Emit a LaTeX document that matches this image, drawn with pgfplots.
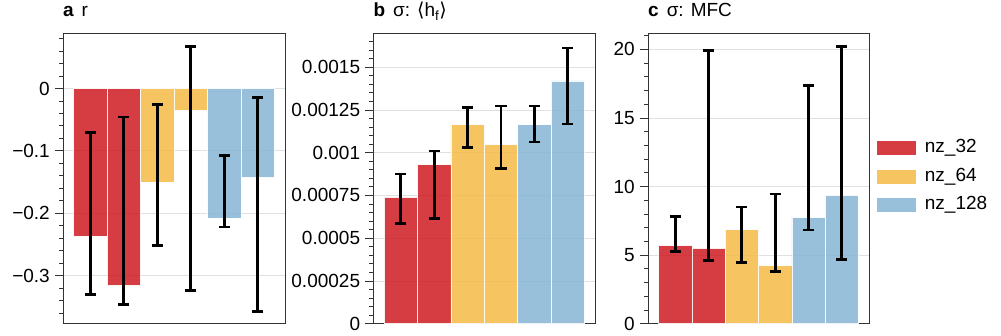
\documentclass[border=0pt]{standalone}
\usepackage{pgfplots}
\pgfplotsset{compat=1.18}
\usepackage{fontspec}
\setmainfont{Liberation Sans}
\newfontfamily\dejavu{DejaVu Sans}
\newcommand{\fs}{\fontsize{19}{22}\selectfont}
\definecolor{cred}{RGB}{206,27,34}
\definecolor{cyel}{RGB}{246,186,70}
\definecolor{cblue}{RGB}{134,181,212}
\begin{document}
\begin{tikzpicture}
\path[use as bounding box] (0,0) rectangle (1001pt,335pt);
\pgfplotsset{common/.style={
  scale only axis, width=222pt, height=290.7pt,
  xmin=-0.82, xmax=5.82, xtick=\empty, ytick pos=left,
  scaled y ticks=false,
  tick align=outside, major tick length=8pt, minor tick length=4pt,
  axis line style={black!80, line width=0.9pt},
  every tick/.style={black!80, line width=0.9pt},
  ymajorgrids, grid style={black!12, line width=0.8pt},
  ybar, bar width=1,
  font=\fs,
  yticklabel style={inner sep=0pt, xshift=-5pt, font=\fs},
  title style={at={(0,1)}, anchor=base west, inner sep=0pt, yshift=10.3pt, font=\fs},
  every axis plot/.append style={bar shift=0pt, fill opacity=0.85, draw=white, draw opacity=0.9, line width=0.5pt},
  error bars/y dir=both, error bars/y explicit,
  error bars/error bar style={line width=2.8pt, black, opacity=1},
  error bars/error mark options={rotate=90, mark size=5.6pt, line width=2.6pt, black, opacity=1},
  legend image code/.code={\fill[#1, draw=none] (0pt,-7pt) rectangle (39pt,7pt);},
}}
% ---- panel a
\begin{axis}[common, at={(63pt,11.3pt)}, anchor=south west,
  ymin=-0.377, ymax=0.089,
  ytick={-0.3,-0.2,-0.1,0}, yticklabels={−0.3,−0.2,−0.1,0},
  minor ytick={-0.36,-0.34,-0.32,-0.28,-0.26,-0.24,-0.22,-0.18,-0.16,-0.14,-0.12,-0.08,-0.06,-0.04,-0.02,0.02,0.04,0.06,0.08},
  title={\bfseries a\hspace{0.42em}\mdseries r}]
\addplot[fill=cred] table[x=x,y=y,y error plus=ep,y error minus=em] {
x y ep em
0 -0.237 0.1664 0.093
1 -0.316 0.2705 0.030
};
\addplot[fill=cyel] table[x=x,y=y,y error plus=ep,y error minus=em] {
x y ep em
2 -0.150 0.1243 0.1015
3 -0.035 0.1024 0.289
};
\addplot[fill=cblue] table[x=x,y=y,y error plus=ep,y error minus=em] {
x y ep em
4 -0.208 0.101 0.014
5 -0.143 0.1285 0.214
};
\end{axis}
% ---- panel b
\begin{axis}[common, at={(373.3pt,11.3pt)}, anchor=south west,
  ymin=0, ymax=0.0017,
  ytick={0,0.00025,0.0005,0.00075,0.001,0.00125,0.0015},
  yticklabels={0,0.00025,0.0005,0.00075,0.001,0.00125,0.0015},
  minor ytick={0.00005,0.0001,0.00015,0.0002,0.0003,0.00035,0.0004,0.00045,0.00055,0.0006,0.00065,0.0007,0.0008,0.00085,0.0009,0.00095,0.00105,0.0011,0.00115,0.0012,0.0013,0.00135,0.0014,0.00145,0.00155,0.0016,0.00165},
  title={\bfseries b\hspace{0.42em}\mdseries σ: {\dejavu ⟨}h\textsubscript{f}{\dejavu ⟩}}]
\addplot[fill=cred] table[x=x,y=y,y error plus=ep,y error minus=em] {
x y ep em
0 0.000740 0.000136 0.000155
1 0.000931 0.000079 0.000317
};
\addplot[fill=cyel] table[x=x,y=y,y error plus=ep,y error minus=em] {
x y ep em
2 0.001164 0.000102 0.000133
3 0.001047 0.000227 0.000140
};
\addplot[fill=cblue] table[x=x,y=y,y error plus=ep,y error minus=em] {
x y ep em
4 0.001164 0.000110 0.000102
5 0.001420 0.000192 0.000253
};
\end{axis}
% ---- panel c
\begin{axis}[common, width=221pt, at={(648pt,11.3pt)}, anchor=south west,
  ymin=0, ymax=21.2,
  ytick={0,5,10,15,20}, yticklabels={0,5,10,15,20},
  minor ytick={1,2,3,4,6,7,8,9,11,12,13,14,16,17,18,19,21},
  title={\bfseries c\hspace{0.42em}\mdseries σ: MFC},
  legend style={draw=none, fill=none, at={(1,0.633)}, anchor=north west, xshift=7.7pt,
    inner sep=0pt, font=\fs, row sep=11.5pt, column sep=9pt,
    nodes={inner sep=0pt, text height=13pt, text depth=4pt}},
  legend cell align=left]
\addplot[fill=cred] table[x=x,y=y,y error plus=ep,y error minus=em] {
x y ep em
0 5.715 2.095 0.435
1 5.52 14.41 0.92
};
\addlegendentry{nz\_32}
\addplot[fill=cyel] table[x=x,y=y,y error plus=ep,y error minus=em] {
x y ep em
2 6.86 1.66 2.41
3 4.26 5.21 0.44
};
\addlegendentry{nz\_64}
\addplot[fill=cblue] table[x=x,y=y,y error plus=ep,y error minus=em] {
x y ep em
4 7.76 9.61 0.92
5 9.37 10.83 4.68
};
\addlegendentry{nz\_128}
\end{axis}
\end{tikzpicture}
\end{document}
